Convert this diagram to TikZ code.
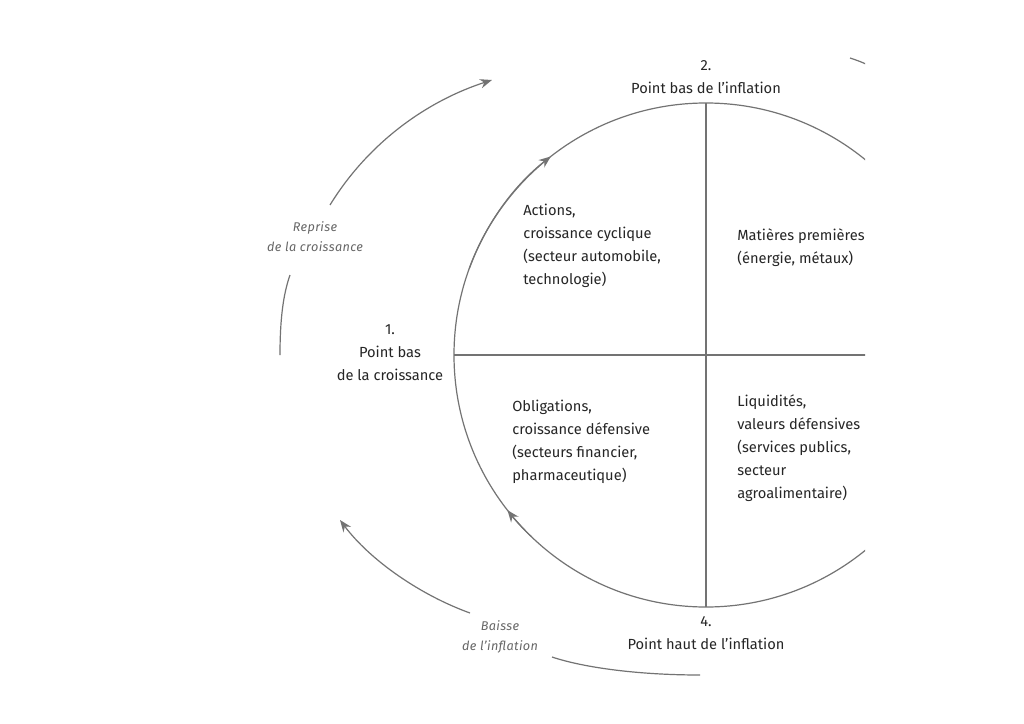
\documentclass[tikz,border=0pt]{standalone}
\usepackage{fontspec}
\setmainfont{Fira Sans}
\usetikzlibrary{arrows.meta,calc}
\begin{document}
\begin{tikzpicture}[x=0.75pt,y=-0.75pt,
  ln/.style={draw=black!55,line width=0.9pt},
  ar/.style={ln,-{Stealth[length=9pt,width=7pt]}},
  txt/.style={font=\fontsize{11}{17.3}\selectfont,text=black!85,align=left,anchor=north west,inner sep=0},
  ctr/.style={font=\fontsize{11}{17.3}\selectfont,text=black!85,align=center,inner sep=0},
  it/.style={font=\fontsize{9.5}{15}\selectfont\itshape\addfontfeature{LetterSpace=3},text=black!60,align=center,inner sep=0}]
\useasboundingbox[fill=white] (0,0) rectangle (1024,724);
\coordinate (c) at (706,355);
\begin{scope}
\clip (0,0) rectangle (865,724);
\draw[ln] (c) circle[radius=252];
\draw[ln] (706,103) -- (706,607);
\draw[ln] (454,355) -- (958,355);
\draw[ln] (850,58) .. controls (856,60) and (862,62) .. (870,66);
\node[txt] (mp) at (737,228) {Matières premières\\(énergie, métaux)};
\node[txt] (liq) at (737,394) {Liquidités,\\valeurs défensives\\(services publics,\\secteur\\agroalimentaire)};
\end{scope}
% arrows on circle
\draw[ar] ($(c)+(-160:252)$) arc[start angle=-160,end angle=-128,radius=252];
\draw[ar] ($(c)+(-226:252)$) arc[start angle=-226,end angle=-218,radius=252];
% outer arcs
\coordinate (o1) at (280,355);
\coordinate (o2) at (492,80);
\draw[ln] (o1) .. controls (280,320) and (283,295) .. (290,275);
\draw[ar] (330,205) .. controls (370,140) and (430,100) .. (o2);
\coordinate (o3) at (700,675);
\coordinate (o4) at (340,520);
\draw[ln] (o3) .. controls (640,675) and (585,668) .. (552,657);
\draw[ar] (470,613) .. controls (420,595) and (370,560) .. (o4);
% texts
\node[txt] (act) at (523,204) {Actions,\\croissance cyclique\\(secteur automobile,\\technologie)};
\node[txt] (obl) at (512,400) {Obligations,\\croissance défensive\\(secteurs financier,\\pharmaceutique)};
\node[ctr] (p1) at (390,353) {1.\\Point bas\\de la croissance};
\node[ctr] (p2) at (706,77) {2.\\Point bas de l'inflation};
\node[ctr] (p4) at (706,633) {4.\\Point haut de l'inflation};
\node[it] (rep) at (315,237) {Reprise\\de la croissance};
\node[it] (bai) at (500,637) {Baisse\\de l'inflation};
\end{tikzpicture}
\end{document}
